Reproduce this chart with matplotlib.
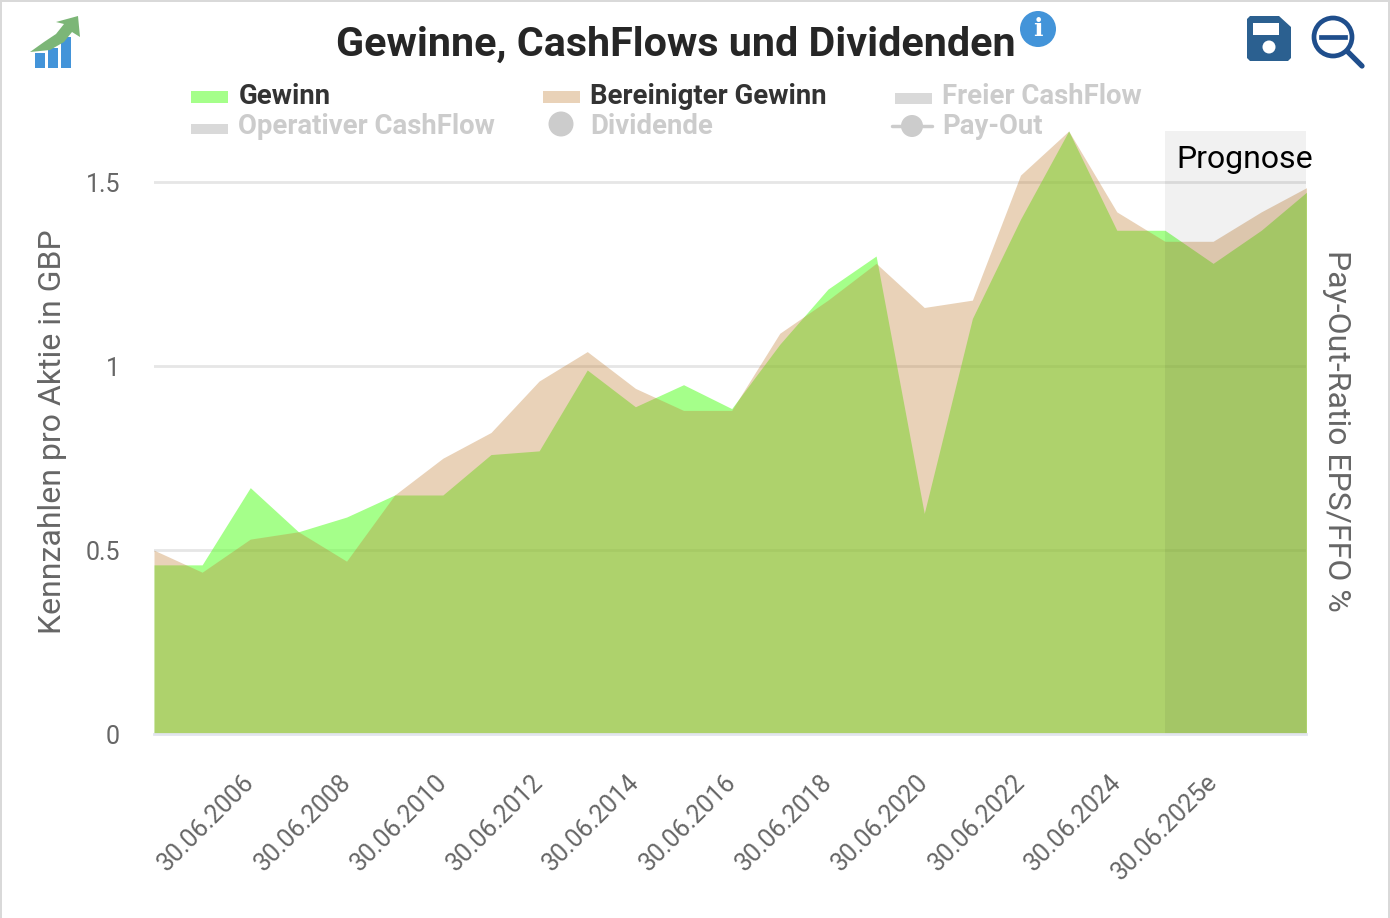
import numpy as np
import matplotlib
matplotlib.use("Agg")
import matplotlib.pyplot as plt
from matplotlib.patches import Rectangle, Circle, Polygon
from matplotlib.transforms import ScaledTranslation

plt.rcParams['font.family'] = ['Roboto', 'DejaVu Sans']

# 25 yearly points, only every other one carries a label
idx = np.arange(25)
gewinn = [0.46, 0.46, 0.67, 0.55, 0.59, 0.65, 0.65, 0.76, 0.77, 0.99, 0.89, 0.95, 0.885,
          1.06, 1.21, 1.30, 0.60, 1.13, 1.40, 1.64, 1.37, 1.37, 1.28, 1.37, 1.48]
bereinigt = [0.50, 0.44, 0.53, 0.55, 0.47, 0.65, 0.75, 0.82, 0.96, 1.04, 0.94, 0.88, 0.88,
             1.09, 1.18, 1.28, 1.16, 1.18, 1.52, 1.64, 1.42, 1.34, 1.34, 1.42, 1.49]
tick_idx = [2, 4, 6, 8, 10, 12, 14, 16, 18, 20, 22]
tick_labels = ['30.06.2006', '30.06.2008', '30.06.2010', '30.06.2012', '30.06.2014', '30.06.2016',
               '30.06.2018', '30.06.2020', '30.06.2022', '30.06.2024', '30.06.2025e']
y_ticks = [0, 0.5, 1, 1.5]
y_tick_labels = ['0', '0.5', '1', '1.5']
forecast_start = 21

W, H = 1390, 918
fig = plt.figure(figsize=(W / 100, H / 100), dpi=100)

# plot area 154..1306 px, 131..734 px
ax = fig.add_axes([154 / W, 1 - 734 / H, (1306 - 154) / W, (734 - 131) / H])
ax.set_xlim(0, 23.93)
ax.set_ylim(0, 1.64)
for s in ax.spines.values():
    s.set_visible(False)
ax.spines['bottom'].set_visible(True)
ax.spines['bottom'].set_color('#e2e5ee')
ax.spines['bottom'].set_linewidth(2)

ax.set_axisbelow(True)
ax.yaxis.grid(True, color='#e6e6e6', lw=2)
ax.fill_between(idx, gewinn, color=(105 / 255, 1, 60 / 255), alpha=0.6, lw=0)
ax.fill_between(idx, bereinigt, color=(192 / 255, 126 / 255, 52 / 255), alpha=0.35, lw=0)
ax.axvspan(forecast_start, 24, color='black', alpha=0.055, lw=0)

ax.set_yticks(y_ticks, y_tick_labels)
ax.set_xticks(tick_idx, tick_labels)
ax.tick_params(axis='both', length=0, labelcolor='#666666')
ax.tick_params(axis='y', labelsize=18, pad=24.5)
ax.tick_params(axis='x', labelsize=18, pad=26)
shift = ScaledTranslation(-8 / 100, 0, fig.dpi_scale_trans)
for t in ax.get_xticklabels():
    t.set_rotation(45)
    t.set_ha('right')
    t.set_va('top')
    t.set_rotation_mode('anchor')
    t.set_transform(t.get_transform() + shift)

# everything around the plot is placed in pixel coordinates
ov = fig.add_axes([0, 0, 1, 1], zorder=5)
ov.set_xlim(0, W)
ov.set_ylim(H, 0)
ov.axis('off')
ov.patch.set_alpha(0)

ov.add_patch(Rectangle((0, 0), W, 2, color='#d9d9d9', lw=0))
ov.add_patch(Rectangle((0, 0), 2, H, color='#d9d9d9', lw=0))
ov.add_patch(Rectangle((W - 2, 0), 2, H, color='#d9d9d9', lw=0))

ov.text(675.5, 45, 'Gewinne, CashFlows und Dividenden', ha='center', va='center',
        fontsize=29.7, fontweight='bold', color='#262626')
ov.text(1176, 159, 'Prognose', ha='left', va='center', fontsize=23, color='black')
ov.text(53, 432, 'Kennzahlen pro Aktie in GBP', rotation=90, ha='center', va='center',
        fontsize=23, color='#666666')
ov.text(1337, 431, 'Pay-Out-Ratio EPS/FFO %', rotation=-90, ha='center', va='center',
        fontsize=23, color='#666666')

# legend
leg_active = [('Gewinn', 191, '#a5ff8a'), ('Bereinigter Gewinn', 543, '#e9d2b8')]
for name, x, col in leg_active:
    ov.add_patch(Rectangle((x, 91), 37, 12, color=col, lw=0))
    ov.text(x + 47.5, 97, name, va='center', fontsize=19.85, fontweight='bold', color='#333333')
ov.add_patch(Rectangle((895, 93), 37, 11, color='#d9d9d9', lw=0))
ov.text(942.5, 97, 'Freier CashFlow', va='center', fontsize=19.85, fontweight='bold', color='#cccccc')
ov.add_patch(Rectangle((191, 124), 37, 10, color='#d9d9d9', lw=0))
ov.text(238.5, 127, 'Operativer CashFlow', va='center', fontsize=19.85, fontweight='bold', color='#cccccc')
ov.add_patch(Circle((561, 124), 12.5, color='#cccccc', lw=0))
ov.text(590.5, 127, 'Dividende', va='center', fontsize=19.85, fontweight='bold', color='#cccccc')
ov.plot([892, 932], [126, 126], color='#cccccc', lw=2.5, solid_capstyle='round')
ov.add_patch(Circle((912, 126), 11, color='#cccccc', lw=0))
ov.text(942.5, 127, 'Pay-Out', va='center', fontsize=19.85, fontweight='bold', color='#cccccc')

# logo
for x0, top in [(35, 53), (48, 48), (61, 37)]:
    ov.add_patch(Rectangle((x0, top), 10, 68 - top, color='#4394d9', lw=0))
ov.add_patch(Polygon([(30, 52), (44, 42), (56, 34), (64, 24), (56, 22), (78, 16), (80, 37), (72, 32),
                      (64, 42), (50, 50)], closed=True, color='#7cb677', lw=0))

# info bubble
ov.add_patch(Circle((1038, 29), 18, color='#4394d9', lw=0))
ov.text(1038, 29, 'i', ha='center', va='center', fontsize=18, fontweight='bold', color='white',
        family='DejaVu Serif')

# save icon
ov.add_patch(Polygon([(1250, 16), (1279, 16), (1291, 27), (1291, 58), (1288, 61), (1250, 61), (1247, 58), (1247, 19)],
                     closed=True, color='#2b6090', lw=0))
ov.add_patch(Rectangle((1253, 23), 26, 12, color='white', lw=0))
ov.add_patch(Circle((1269, 47), 6.5, color='white', lw=0))

# zoom-out icon
ov.add_patch(Circle((1333, 37), 19, fill=False, ec='#1f4e8c', lw=3.4))
ov.plot([1321, 1345], [37, 37], color='#1f4e8c', lw=3.4)
ov.plot([1348, 1362], [52, 66], color='#1f4e8c', lw=3.8, solid_capstyle='round')

fig.savefig('out.png', dpi=100)
